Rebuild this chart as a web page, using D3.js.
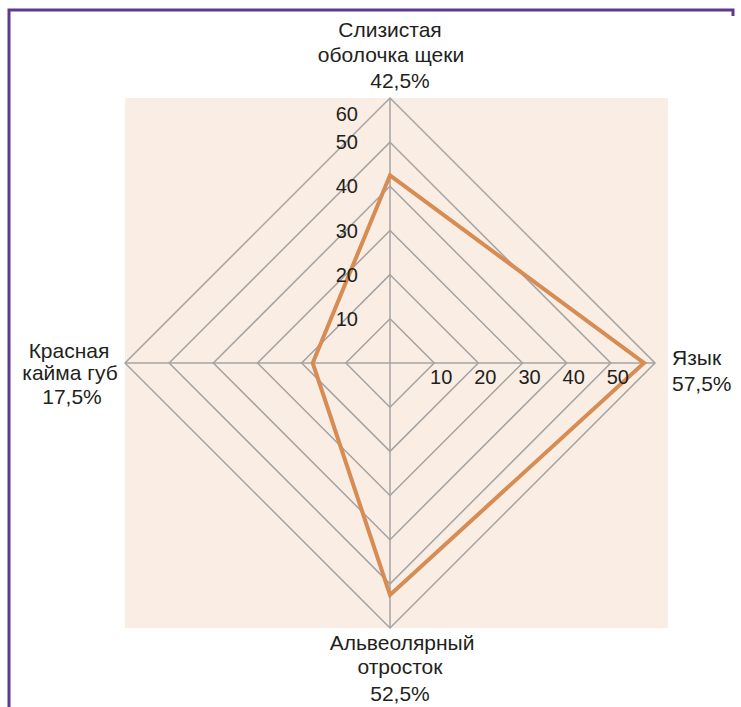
<!DOCTYPE html>
<html>
<head>
<meta charset="utf-8">
<script src="https://cdn.jsdelivr.net/npm/d3@7"></script>
<style>
  body { margin: 0; background: #fff; }
  text { font-family: "Liberation Sans", Arial, sans-serif; fill: #231f20; }
</style>
</head>
<body>
<svg id="chart" width="741" height="707"></svg>
<script>
// categories clockwise from top
var categories = [
  ["Слизистая", "оболочка щеки", "42,5%"],
  ["Язык", "57,5%"],
  ["Альвеолярный", "отросток", "52,5%"],
  ["Красная", "кайма губ", "17,5%"]
];
var values = [42.5, 57.5, 52.5, 17.5];
var gridLevels = [10, 20, 30, 40, 50, 60];
var tickLabels = ["10", "20", "30", "40", "50", "60"];

var svg = d3.select("#chart");
var cx = 390, cy = 363, R = 265;

var r = d3.scaleLinear().domain([0, 60]).range([0, R]);
var angle = d3.scaleLinear().domain([0, categories.length]).range([0, 2 * Math.PI]);

function pt(i, v){
  var a = angle(i) - Math.PI / 2;
  return [cx + r(v) * Math.cos(a), cy + r(v) * Math.sin(a)];
}

// frame
svg.append("path")
  .attr("d", "M9,707 L9,10 L733,10 L733,16")
  .attr("fill", "none")
  .attr("stroke", "#5e3a8f")
  .attr("stroke-width", 3);

// background
svg.append("rect")
  .attr("x", cx - R)
  .attr("y", cy - R)
  .attr("width", 668 - (cx - R))
  .attr("height", 2 * R)
  .attr("fill", "#faede4");

var line = d3.line();

// grid diamonds
svg.selectAll(".grid")
  .data(gridLevels)
  .enter()
  .append("path")
  .attr("class", "grid")
  .attr("d", function(d){
    return line(d3.range(categories.length).map(function(i){ return pt(i, d); })) + "Z";
  })
  .attr("fill", "none")
  .attr("stroke", "#a3a3a3")
  .attr("stroke-width", 1.5);

// spokes
svg.selectAll(".spoke")
  .data(d3.range(categories.length))
  .enter()
  .append("line")
  .attr("x1", cx).attr("y1", cy)
  .attr("x2", function(i){ return pt(i, 60)[0]; })
  .attr("y2", function(i){ return pt(i, 60)[1]; })
  .attr("stroke", "#a3a3a3")
  .attr("stroke-width", 1.5);

// data polygon
svg.append("path")
  .attr("d", line(values.map(function(v, i){ return pt(i, v); })) + "Z")
  .attr("fill", "none")
  .attr("stroke", "#d68c52")
  .attr("stroke-width", 4)
  .attr("stroke-linejoin", "miter");

// vertical axis labels
svg.selectAll(".vtick")
  .data(gridLevels)
  .enter()
  .append("text")
  .attr("x", cx - 32)
  .attr("y", function(d){ return cy - r(d) + (d == 60 ? 16 : 0); })
  .attr("dy", "0.35em")
  .attr("text-anchor", "end")
  .attr("font-size", 20)
  .text(function(d, i){ return tickLabels[i]; });

// horizontal axis labels (no 60)
svg.selectAll(".htick")
  .data(gridLevels.slice(0, 5))
  .enter()
  .append("text")
  .attr("x", function(d){ return cx + r(d) + 7; })
  .attr("y", cy + 14)
  .attr("dy", "0.35em")
  .attr("text-anchor", "middle")
  .attr("font-size", 20)
  .text(function(d, i){ return tickLabels[i]; });

// category labels
var labelPos = [
  {x: [390, 391, 400], y: [30, 55, 81], anchor: "middle"},
  {x: [672, 672], y: [358, 384], anchor: "start"},
  {x: [402, 400, 400], y: [643, 667, 694], anchor: "middle"},
  {x: [69, 70, 72], y: [351, 373, 397], anchor: "middle"}
];

categories.forEach(function(lines, i){
  var p = labelPos[i];
  var g = svg.append("g");
  lines.forEach(function(t, j){
    g.append("text")
      .attr("x", p.x[j])
      .attr("y", p.y[j])
      .attr("dy", "0.35em")
      .attr("text-anchor", p.anchor)
      .attr("font-size", 21)
      .text(t);
  });
});
</script>
</body>
</html>
